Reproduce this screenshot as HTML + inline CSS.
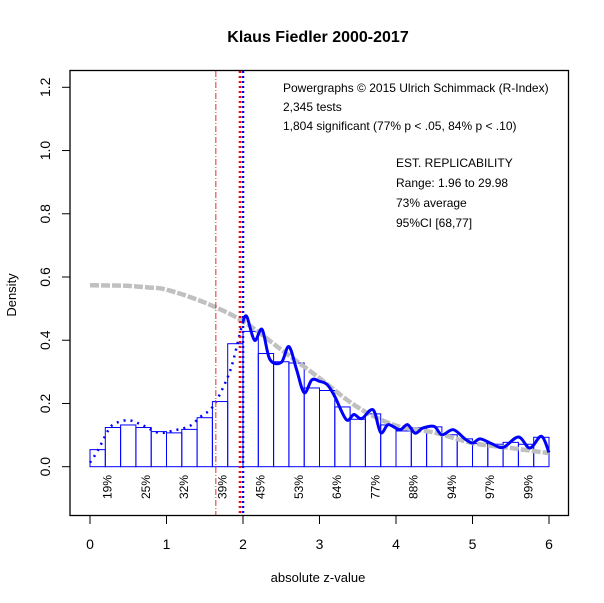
<!DOCTYPE html>
<html><head><meta charset="utf-8"><style>
body{margin:0;background:#fff}
svg{display:block;font-family:"Liberation Sans",Arial,sans-serif}
</style></head><body>
<svg id="c" width="604" height="603" viewBox="0 0 604 603">
<rect x="0" y="0" width="604" height="603" fill="#fff"/>
<text x="318" y="42" text-anchor="middle" font-size="16" font-weight="bold">Klaus Fiedler 2000-2017</text>
<g id="bars"></g>
<g id="lines"></g>
<rect x="70" y="70.5" width="498.5" height="445" fill="none" stroke="#000" stroke-width="1.3"/>
<g id="axes"></g>
<text x="16" y="295" transform="rotate(-90 16 295)" text-anchor="middle" font-size="13">Density</text>
<text x="318" y="582" text-anchor="middle" font-size="13">absolute z-value</text>
<g font-size="12">
<text x="283" y="92">Powergraphs © 2015 Ulrich Schimmack (R-Index)</text>
<text x="283" y="111">2,345 tests</text>
<text x="283" y="130">1,804 significant (77% p &lt; .05, 84% p &lt; .10)</text>
<text x="396" y="167">EST. REPLICABILITY</text>
<text x="396" y="187">Range: 1.96 to 29.98</text>
<text x="396" y="207">73% average</text>
<text x="396" y="227">95%CI [68,77]</text>
</g>
</svg>
<script>
const barHeights=[0.054,0.124,0.132,0.124,0.111,0.107,0.118,0.155,0.206,0.389,0.428,0.358,0.332,0.328,0.249,0.241,0.189,0.15,0.167,0.132,0.113,0.123,0.126,0.101,0.088,0.073,0.071,0.077,0.071,0.093];
const barWidth=0.2;
const grayZ=[0,0.25,0.5,0.75,1,1.5,2,2.5,3,3.5,4,4.5,5,5.5,6];
const grayD=[0.574,0.573,0.572,0.567,0.56,0.519,0.46,0.37,0.28,0.188,0.13,0.108,0.075,0.059,0.043];
const dotZ=[0,0.1,0.2,0.3,0.5,0.7,0.9,1.1,1.3,1.45,1.6,1.75,1.85,1.95,2.0];
const dotD=[0.013,0.05,0.098,0.133,0.147,0.13,0.107,0.115,0.128,0.159,0.188,0.256,0.317,0.412,0.46];
const solZ=[2.0,2.05,2.15,2.25,2.35,2.5,2.6,2.7,2.8,2.9,3.0,3.1,3.2,3.35,3.45,3.55,3.7,3.8,3.9,4.05,4.15,4.25,4.35,4.5,4.6,4.75,4.9,5.0,5.1,5.25,5.4,5.6,5.75,5.9,6.0];
const solD=[0.46,0.475,0.40,0.434,0.34,0.33,0.38,0.307,0.234,0.275,0.27,0.26,0.222,0.149,0.165,0.152,0.18,0.108,0.133,0.117,0.133,0.106,0.122,0.127,0.101,0.117,0.088,0.075,0.088,0.073,0.061,0.094,0.059,0.096,0.045];
const pctLabels=["19%","25%","32%","39%","45%","53%","64%","77%","88%","94%","97%","99%"];
const pctZ=[0.23,0.73,1.23,1.73,2.23,2.73,3.23,3.73,4.23,4.73,5.23,5.73];
const xTicks=[0,1,2,3,4,5,6];
const yTicks=["0.0","0.2","0.4","0.6","0.8","1.0","1.2"];
const vlines=[1.645,1.96,2.0];
const NS="http://www.w3.org/2000/svg";
const X=z=>90+z*(549-90)/6;
const Y=d=>466.7-d*(466.7-87.3)/1.2;
function mk(t,a,p){const e=document.createElementNS(NS,t);for(const k in a)e.setAttribute(k,a[k]);p.appendChild(e);return e;}
const bars=document.getElementById('bars'),lines=document.getElementById('lines'),axes=document.getElementById('axes');
barHeights.forEach((h,i)=>{const x0=X(i*barWidth),x1=X((i+1)*barWidth);
const r=mk('rect',{x:x0,y:Y(h),width:x1-x0,height:Y(0)-Y(h),fill:'none',stroke:'#0000ff','stroke-width':1},bars);

});
function smooth(zs,ds){const p=zs.map((z,i)=>[X(z),Y(ds[i])]);let s='M'+p[0][0].toFixed(1)+' '+p[0][1].toFixed(1);
for(let i=0;i<p.length-1;i++){const a=p[i-1]||p[i],b=p[i],c=p[i+1],d=p[i+2]||c;
const c1=[b[0]+(c[0]-a[0])/6,b[1]+(c[1]-a[1])/6],c2=[c[0]-(d[0]-b[0])/6,c[1]-(d[1]-b[1])/6];
s+=` C${c1[0].toFixed(1)} ${c1[1].toFixed(1)} ${c2[0].toFixed(1)} ${c2[1].toFixed(1)} ${c[0].toFixed(1)} ${c[1].toFixed(1)}`;}return s;}
const g=mk('path',{d:smooth(grayZ,grayD),fill:'none',stroke:'#c0c0c0','stroke-width':4.5,'stroke-dasharray':'9 2','stroke-linejoin':'round'},lines);


const dl=mk('path',{d:smooth(dotZ,dotD),fill:'none',stroke:'#0000ff','stroke-width':2.5,'stroke-dasharray':'2 5'},lines);


const sl=mk('path',{d:smooth(solZ,solD),fill:'none',stroke:'#0000ff','stroke-width':3,'stroke-linejoin':'round'},lines);


const vs=[{c:'#e03030',w:1,da:'6 2 1 2'},{c:'#ff0000',w:2.5,da:'2 3'},{c:'#0000ff',w:2.5,da:'2 3'}];
vlines.forEach((z,i)=>{const l=mk('line',{x1:X(z),x2:X(z),y1:71,y2:515,stroke:vs[i].c,'stroke-width':vs[i].w,'stroke-dasharray':vs[i].da},lines);

});
pctZ.forEach((z,i)=>{const x=X(z)+4,y=487;const t=mk('text',{x:x,y:y,transform:`rotate(-90 ${x} ${y})`,'text-anchor':'middle','font-size':12},lines);t.textContent=pctLabels[i];

});
xTicks.forEach(v=>{mk('line',{x1:X(v),x2:X(v),y1:515.5,y2:524,stroke:'#000'},axes);
const t=mk('text',{x:X(v),y:549,'text-anchor':'middle','font-size':14},axes);t.textContent=v;

});
yTicks.forEach((s,i)=>{const y=Y(+s);mk('line',{x1:62,x2:70,y1:y,y2:y,stroke:'#000'},axes);
const t=mk('text',{x:50,y:y,transform:`rotate(-90 50 ${y})`,'text-anchor':'middle','font-size':14},axes);t.textContent=s;

});
</script>
</body></html>
